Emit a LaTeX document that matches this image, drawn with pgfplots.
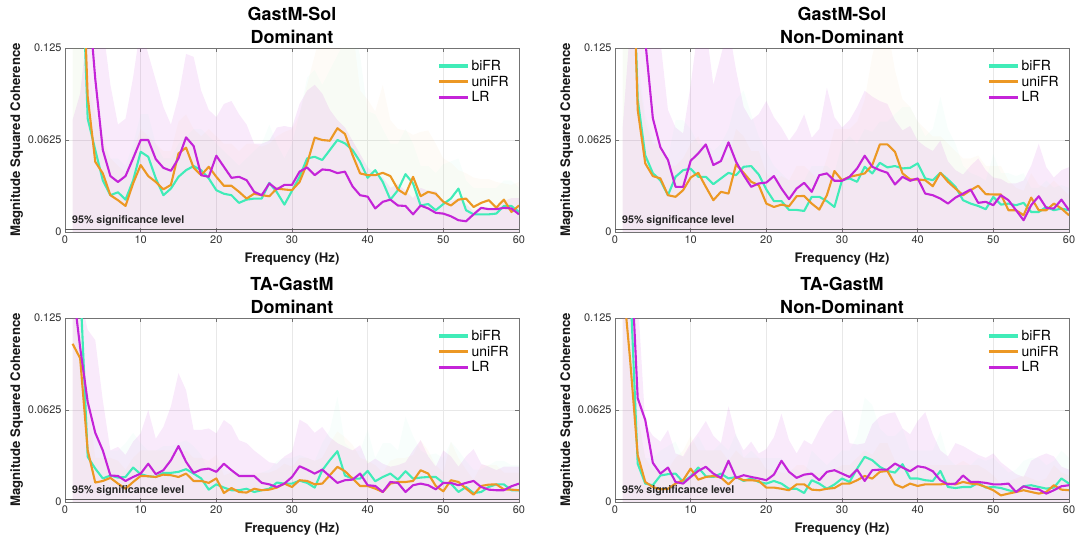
\documentclass[border=0pt]{standalone}
\usepackage{fontspec}
\setmainfont{TeX Gyre Heros}
\usepackage{pgfplots}
\usepackage{pgfplotstable}
\pgfplotsset{compat=1.18}

\definecolor{cbi}{RGB}{64,236,184}
\definecolor{cuni}{RGB}{236,152,36}
\definecolor{clr}{RGB}{196,36,216}

% columns: frequency, mean coherence (biFR, uniFR, LR), upper edge of each shaded band
\pgfplotstableread{
f bi uni lr biu uniu lru
1 0.30 0.30 0.35 0.14 0.14 0.076
2 0.22 0.236 0.30 0.14 0.14 0.094
3 0.077 0.092 0.166 0.10 0.12 0.14
4 0.0557 0.0477 0.104 0.08 0.08 0.14
5 0.035 0.0398 0.0557 0.06 0.065 0.14
6 0.025 0.025 0.038 0.05 0.05 0.10
7 0.027 0.0216 0.034 0.05 0.045 0.073
8 0.022 0.0177 0.038 0.045 0.04 0.077
9 0.035 0.033 0.050 0.06 0.055 0.105
10 0.0545 0.0455 0.0625 0.08 0.07 0.14
11 0.0511 0.038 0.0625 0.08 0.065 0.121
12 0.0364 0.034 0.0495 0.06 0.06 0.103
13 0.025 0.029 0.0436 0.05 0.055 0.085
14 0.0295 0.032 0.0416 0.05 0.055 0.073
15 0.0375 0.0534 0.050 0.06 0.075 0.092
16 0.042 0.0573 0.0643 0.065 0.08 0.121
17 0.0448 0.0436 0.0584 0.07 0.07 0.119
18 0.042 0.0386 0.0386 0.07 0.065 0.096
19 0.0364 0.0443 0.0375 0.065 0.07 0.083
20 0.0284 0.0375 0.0518 0.06 0.065 0.078
21 0.026 0.0314 0.0443 0.055 0.06 0.087
22 0.025 0.0314 0.0368 0.05 0.06 0.089
23 0.0198 0.0273 0.0375 0.045 0.055 0.080
24 0.022 0.0227 0.0352 0.05 0.06 0.073
25 0.0227 0.026 0.0273 0.055 0.06 0.060
26 0.0227 0.025 0.025 0.06 0.058 0.060
27 0.0334 0.0243 0.033 0.073 0.06 0.062
28 0.027 0.0295 0.029 0.06 0.065 0.071
29 0.0186 0.0289 0.032 0.05 0.068 0.072
30 0.028 0.0284 0.032 0.06 0.07 0.071
31 0.0375 0.034 0.041 0.08 0.08 0.087
32 0.05 0.0466 0.0439 0.105 0.10 0.096
33 0.0511 0.0641 0.0386 0.11 0.12 0.10
34 0.0489 0.0625 0.0425 0.10 0.14 0.094
35 0.0557 0.062 0.042 0.11 0.14 0.083
36 0.0625 0.0705 0.040 0.12 0.14 0.076
37 0.0602 0.0666 0.041 0.13 0.14 0.071
38 0.0557 0.0523 0.031 0.14 0.14 0.062
39 0.0477 0.0398 0.025 0.12 0.096 0.053
40 0.0368 0.0386 0.024 0.082 0.09 0.044
41 0.042 0.0386 0.016 0.08 0.082 0.039
42 0.034 0.0402 0.0205 0.07 0.10 0.037
43 0.022 0.038 0.022 0.06 0.076 0.030
44 0.0284 0.0289 0.018 0.06 0.07 0.0325
45 0.0393 0.0255 0.0177 0.07 0.069 0.028
46 0.033 0.0375 0.012 0.06 0.066 0.023
47 0.018 0.0243 0.018 0.045 0.068 0.030
48 0.019 0.0273 0.016 0.045 0.069 0.028
49 0.0148 0.026 0.013 0.04 0.06 0.028
50 0.019 0.0205 0.0125 0.046 0.05 0.021
51 0.0227 0.018 0.0107 0.048 0.047 0.021
52 0.0295 0.022 0.008 0.05 0.042 0.023
53 0.0148 0.0227 0.0073 0.035 0.04 0.019
54 0.012 0.017 0.012 0.03 0.037 0.014
55 0.012 0.0198 0.0164 0.03 0.036 0.0166
56 0.012 0.0216 0.0155 0.03 0.036 0.0166
57 0.0125 0.0166 0.0155 0.03 0.034 0.0166
58 0.0177 0.022 0.0164 0.035 0.033 0.021
59 0.0177 0.0136 0.016 0.035 0.032 0.023
60 0.0136 0.018 0.012 0.03 0.034 0.023
}\GSdom

\pgfplotstableread{
f bi uni lr biu uniu lru
1 0.32 0.32 0.35 0.14 0.14 0.07
2 0.25 0.25 0.32 0.14 0.14 0.14
3 0.09 0.083 0.25 0.12 0.11 0.14
4 0.052 0.0466 0.13 0.08 0.075 0.14
5 0.040 0.038 0.0773 0.065 0.06 0.14
6 0.035 0.0364 0.0575 0.055 0.06 0.13
7 0.025 0.025 0.0489 0.05 0.045 0.083
8 0.0375 0.0239 0.0307 0.076 0.045 0.071
9 0.042 0.0284 0.0307 0.076 0.05 0.067
10 0.043 0.037 0.0484 0.07 0.06 0.10
11 0.0375 0.0402 0.0534 0.06 0.065 0.14
12 0.0375 0.0307 0.0595 0.06 0.055 0.14
13 0.0325 0.0216 0.0455 0.055 0.045 0.10
14 0.0364 0.0273 0.0482 0.06 0.05 0.12
15 0.0402 0.0261 0.0609 0.07 0.05 0.14
16 0.0386 0.0459 0.0477 0.09 0.07 0.11
17 0.0443 0.0402 0.0386 0.096 0.065 0.085
18 0.0448 0.0341 0.0307 0.08 0.055 0.076
19 0.039 0.0318 0.033 0.065 0.055 0.08
20 0.0289 0.0193 0.0336 0.055 0.04 0.089
21 0.021 0.017 0.038 0.045 0.035 0.078
22 0.021 0.0186 0.0295 0.04 0.038 0.071
23 0.015 0.0175 0.0223 0.035 0.035 0.062
24 0.015 0.0243 0.0295 0.035 0.045 0.069
25 0.0143 0.0245 0.0334 0.035 0.045 0.08
26 0.0239 0.0193 0.0273 0.045 0.04 0.064
27 0.0239 0.0152 0.0386 0.045 0.035 0.07
28 0.021 0.025 0.0398 0.045 0.05 0.098
29 0.017 0.0414 0.0348 0.04 0.07 0.078
30 0.0352 0.0352 0.0348 0.06 0.07 0.071
31 0.0364 0.0375 0.0375 0.065 0.07 0.076
32 0.0341 0.0386 0.0432 0.06 0.075 0.085
33 0.0443 0.0398 0.0518 0.07 0.09 0.096
34 0.0398 0.0455 0.0443 0.068 0.12 0.092
35 0.047 0.0595 0.042 0.075 0.14 0.089
36 0.0439 0.0595 0.0402 0.075 0.14 0.087
37 0.0448 0.0545 0.0323 0.08 0.11 0.076
38 0.0432 0.0398 0.0375 0.085 0.09 0.069
39 0.0436 0.0357 0.0348 0.085 0.085 0.072
40 0.0466 0.0357 0.0364 0.075 0.075 0.062
41 0.0364 0.0352 0.0261 0.065 0.07 0.058
42 0.0352 0.0311 0.025 0.07 0.065 0.055
43 0.0402 0.0402 0.0227 0.092 0.065 0.062
44 0.0357 0.0341 0.0193 0.07 0.06 0.048
45 0.0307 0.0295 0.0234 0.06 0.055 0.042
46 0.0216 0.025 0.0261 0.045 0.05 0.039
47 0.0193 0.0284 0.0289 0.04 0.05 0.045
48 0.0177 0.0314 0.0198 0.038 0.052 0.05
49 0.0155 0.0257 0.0205 0.035 0.045 0.042
50 0.0239 0.0255 0.0182 0.053 0.045 0.037
51 0.0186 0.0255 0.025 0.04 0.045 0.036
52 0.0193 0.0148 0.0216 0.04 0.035 0.033
53 0.0182 0.0148 0.0148 0.038 0.03 0.033
54 0.0198 0.0114 0.008 0.04 0.028 0.035
55 0.0136 0.0234 0.0182 0.03 0.04 0.045
56 0.0136 0.0148 0.0243 0.03 0.032 0.06
57 0.017 0.0148 0.0164 0.035 0.03 0.044
58 0.0148 0.0193 0.0159 0.03 0.035 0.037
59 0.0159 0.0159 0.022 0.032 0.03 0.042
60 0.0148 0.0114 0.0148 0.03 0.025 0.044
}\GSnon

\pgfplotstableread{
f bi uni lr biu uniu lru
1 0.2 0.1075 0.148 0.14 0.14 0.14
2 0.149 0.0977 0.105 0.14 0.14 0.14
3 0.0307 0.0352 0.068 0.06 0.07 0.117
4 0.0227 0.0132 0.047 0.045 0.03 0.11
5 0.016 0.0143 0.035 0.035 0.03 0.069
6 0.018 0.0164 0.018 0.035 0.03 0.035
7 0.0166 0.0125 0.0177 0.035 0.028 0.0375
8 0.017 0.009 0.0143 0.04 0.022 0.032
9 0.0234 0.0136 0.017 0.047 0.03 0.041
10 0.0189 0.0177 0.0193 0.04 0.035 0.0466
11 0.0175 0.0175 0.026 0.035 0.035 0.0625
12 0.017 0.017 0.0189 0.035 0.035 0.043
13 0.0198 0.0186 0.0216 0.038 0.035 0.051
14 0.0198 0.0182 0.0284 0.038 0.035 0.065
15 0.0205 0.017 0.038 0.04 0.033 0.0875
16 0.0223 0.0193 0.0273 0.042 0.035 0.076
17 0.0193 0.0143 0.0198 0.038 0.03 0.049
18 0.016 0.0143 0.022 0.032 0.03 0.049
19 0.0084 0.013 0.0227 0.02 0.028 0.05
20 0.012 0.016 0.0205 0.025 0.032 0.0466
21 0.0098 0.0061 0.026 0.022 0.018 0.0557
22 0.008 0.0095 0.0216 0.02 0.02 0.052
23 0.008 0.0068 0.0177 0.02 0.018 0.042
24 0.009 0.0064 0.0177 0.02 0.017 0.04
25 0.0068 0.009 0.0177 0.018 0.02 0.035
26 0.008 0.008 0.013 0.02 0.02 0.031
27 0.009 0.0084 0.012 0.022 0.02 0.027
28 0.0132 0.0098 0.0102 0.028 0.022 0.026
29 0.0125 0.0125 0.0125 0.03 0.026 0.031
30 0.0125 0.0102 0.017 0.03 0.024 0.034
31 0.0145 0.0148 0.0243 0.032 0.03 0.056
32 0.013 0.0143 0.022 0.03 0.03 0.053
33 0.0098 0.012 0.0193 0.028 0.028 0.047
34 0.0216 0.0125 0.022 0.04 0.03 0.051
35 0.0284 0.0182 0.0175 0.049 0.04 0.044
36 0.0345 0.0239 0.013 0.0716 0.048 0.04
37 0.018 0.0209 0.0148 0.04 0.044 0.0375
38 0.0159 0.016 0.0152 0.035 0.039 0.035
39 0.0159 0.0109 0.0193 0.035 0.03 0.0386
40 0.0211 0.0109 0.0114 0.049 0.028 0.026
41 0.0141 0.0091 0.0109 0.03 0.025 0.0295
42 0.017 0.0068 0.0068 0.04 0.02 0.026
43 0.0193 0.0125 0.0136 0.04 0.028 0.024
44 0.0152 0.0136 0.013 0.035 0.03 0.025
45 0.0209 0.0136 0.0068 0.058 0.03 0.027
46 0.0159 0.0143 0.0114 0.045 0.032 0.035
47 0.0166 0.0216 0.0125 0.035 0.042 0.042
48 0.017 0.0193 0.0114 0.032 0.035 0.031
49 0.017 0.0109 0.0086 0.033 0.025 0.024
50 0.013 0.0073 0.013 0.03 0.02 0.035
51 0.0125 0.0148 0.013 0.041 0.041 0.031
52 0.0068 0.0136 0.0114 0.035 0.03 0.024
53 0.0102 0.0091 0.013 0.028 0.022 0.031
54 0.0061 0.005 0.0143 0.022 0.015 0.036
55 0.0068 0.0109 0.0102 0.022 0.025 0.026
56 0.0102 0.0118 0.0084 0.025 0.025 0.024
57 0.012 0.012 0.008 0.028 0.025 0.0216
58 0.012 0.0086 0.008 0.028 0.02 0.024
59 0.008 0.0084 0.0107 0.025 0.02 0.024
60 0.008 0.008 0.0125 0.025 0.02 0.024
}\TAdom

\pgfplotstableread{
f bi uni lr biu uniu lru
1 0.25 0.153 0.25 0.14 0.14 0.14
2 0.15 0.0966 0.18 0.14 0.14 0.14
3 0.026 0.0318 0.0705 0.06 0.06 0.14
4 0.0125 0.0136 0.0557 0.03 0.03 0.053
5 0.0114 0.0102 0.0266 0.03 0.022 0.045
6 0.018 0.0086 0.0193 0.035 0.02 0.041
7 0.0189 0.009 0.0234 0.038 0.022 0.049
8 0.0193 0.0125 0.0136 0.041 0.03 0.033
9 0.0136 0.0148 0.0125 0.03 0.035 0.031
10 0.0175 0.0227 0.017 0.038 0.045 0.04
11 0.0234 0.0152 0.0211 0.045 0.035 0.047
12 0.0175 0.017 0.0239 0.035 0.035 0.055
13 0.017 0.0177 0.0193 0.035 0.035 0.045
14 0.0193 0.0166 0.0164 0.04 0.035 0.04
15 0.016 0.012 0.028 0.035 0.028 0.065
16 0.017 0.017 0.0164 0.047 0.035 0.045
17 0.0143 0.0148 0.0182 0.03 0.03 0.035
18 0.016 0.0148 0.017 0.035 0.03 0.041
19 0.0136 0.0143 0.016 0.03 0.03 0.033
20 0.0125 0.0098 0.0148 0.03 0.022 0.036
21 0.0143 0.0098 0.0186 0.03 0.022 0.044
22 0.0125 0.009 0.028 0.03 0.02 0.06
23 0.009 0.008 0.0205 0.022 0.02 0.042
24 0.009 0.012 0.0164 0.022 0.025 0.033
25 0.0061 0.012 0.0186 0.018 0.025 0.042
26 0.0148 0.0084 0.0193 0.035 0.02 0.039
27 0.0125 0.008 0.0148 0.03 0.02 0.049
28 0.009 0.009 0.0205 0.025 0.02 0.058
29 0.0119 0.0095 0.0216 0.03 0.022 0.0625
30 0.016 0.0125 0.0193 0.035 0.025 0.062
31 0.0136 0.0125 0.017 0.035 0.025 0.04
32 0.0227 0.0148 0.022 0.045 0.03 0.039
33 0.0307 0.0177 0.0143 0.071 0.035 0.04
34 0.0284 0.0159 0.0216 0.066 0.032 0.053
35 0.0239 0.0205 0.022 0.05 0.04 0.058
36 0.0211 0.0211 0.022 0.045 0.04 0.06
37 0.02 0.012 0.0261 0.045 0.028 0.061
38 0.0257 0.0098 0.0234 0.05 0.022 0.05
39 0.016 0.0125 0.0209 0.035 0.025 0.046
40 0.016 0.0109 0.0243 0.035 0.022 0.055
41 0.0148 0.012 0.0234 0.035 0.025 0.061
42 0.0143 0.012 0.0209 0.035 0.025 0.046
43 0.0211 0.012 0.0148 0.048 0.025 0.035
44 0.0102 0.0125 0.012 0.03 0.025 0.031
45 0.0095 0.012 0.0125 0.025 0.025 0.04
46 0.0102 0.0136 0.018 0.025 0.028 0.038
47 0.0102 0.0125 0.0136 0.025 0.025 0.035
48 0.013 0.012 0.0136 0.03 0.025 0.032
49 0.0098 0.0102 0.013 0.028 0.022 0.03
50 0.0102 0.008 0.012 0.03 0.018 0.033
51 0.0095 0.0045 0.012 0.025 0.012 0.027
52 0.008 0.0057 0.0125 0.02 0.014 0.023
53 0.0068 0.0068 0.0068 0.022 0.016 0.019
54 0.0107 0.008 0.0107 0.028 0.018 0.017
55 0.0114 0.0068 0.0091 0.03 0.016 0.028
56 0.0102 0.0057 0.0086 0.03 0.014 0.031
57 0.0091 0.0068 0.0057 0.025 0.016 0.033
58 0.0098 0.0114 0.008 0.028 0.025 0.031
59 0.016 0.0084 0.0107 0.035 0.02 0.024
60 0.0125 0.008 0.0114 0.03 0.018 0.022
}\TAnon

\pgfplotsset{
  panel/.style={
    scale only axis, width=454bp, height=184bp,
    xmin=0, xmax=60, ymin=0, ymax=0.125,
    xtick={0,10,...,60}, xticklabels={0,10,20,30,40,50,60},
    ytick={0,0.0625,0.125}, yticklabels={0,0.0625,0.125},
    grid=major, major grid style={black!9, line width=0.5bp},
    axis line style={black!55, line width=0.6bp},
    tick style={black!55, line width=0.6bp}, tick align=inside, major tick length=4bp,
    ticklabel style={font=\fontsize{11}{13}\selectfont, text=black!80},
    xlabel={Frequency (Hz)}, ylabel={Magnitude Squared Coherence},
    every axis x label/.style={at={(axis description cs:0.5,0)}, anchor=north, yshift=-17bp,
      font=\bfseries\fontsize{13.2}{15}\selectfont, text=black!90},
    every axis y label/.style={at={(axis description cs:-0.085,0.5)}, rotate=90, anchor=south,
      font=\bfseries\fontsize{13.2}{15}\selectfont, text=black!90},
    title style={font=\bfseries\fontsize{18}{23}\selectfont, align=center, anchor=south,
      at={(axis description cs:0.5,1)}, yshift=-5bp},
    legend style={draw=none, fill=none, at={(1,1)}, anchor=north east, xshift=-6bp, yshift=-8bp,
      font=\fontsize{14}{15.5}\selectfont, row sep=0bp, inner sep=2bp},
    legend cell align=left,
    legend image code/.code={\draw[#1, line width=3.6bp] (0bp,0bp) -- (29bp,0bp);},
    band/.style={draw=none, forget plot},
    mean/.style={line width=2.1bp, line join=round},
  }
}

% one panel: band fills, significance line, three mean curves, legend
\newcommand{\coherencepanel}[1]{%
  \addplot[band, fill=cbi, fill opacity=0.035] table[x=f, y=biu]{#1} \closedcycle;
  \addplot[band, fill=cuni, fill opacity=0.035] table[x=f, y=uniu]{#1} \closedcycle;
  \addplot[band, fill=clr, fill opacity=0.095] table[x=f, y=lru]{#1} \closedcycle;
  \addplot[black!65, line width=0.9bp, forget plot] coordinates {(0,0.0016) (60,0.0016)};
  \addplot[mean, cbi] table[x=f, y=bi]{#1};
  \addplot[mean, cuni] table[x=f, y=uni]{#1};
  \addplot[mean, clr] table[x=f, y=lr]{#1};
  \legend{biFR, uniFR, LR}
  \node[anchor=west, font=\bfseries\fontsize{10.7}{12}\selectfont, text=black!85]
    at (axis description cs:0.008,0.063) {95\% significance level};
}

\begin{document}
\begin{tikzpicture}
\useasboundingbox (0,0) rectangle (1078bp,-541bp);

\begin{axis}[panel, at={(65bp,-48bp)}, anchor=north west, title={GastM-Sol\\Dominant}]
  \coherencepanel{\GSdom}
\end{axis}

\begin{axis}[panel, at={(615bp,-48bp)}, anchor=north west, title={GastM-Sol\\Non-Dominant}]
  \coherencepanel{\GSnon}
\end{axis}

\begin{axis}[panel, at={(65bp,-318bp)}, anchor=north west, title={TA-GastM\\Dominant}]
  \coherencepanel{\TAdom}
\end{axis}

\begin{axis}[panel, at={(615bp,-318bp)}, anchor=north west, title={TA-GastM\\Non-Dominant}]
  \coherencepanel{\TAnon}
\end{axis}
\end{tikzpicture}
\end{document}
